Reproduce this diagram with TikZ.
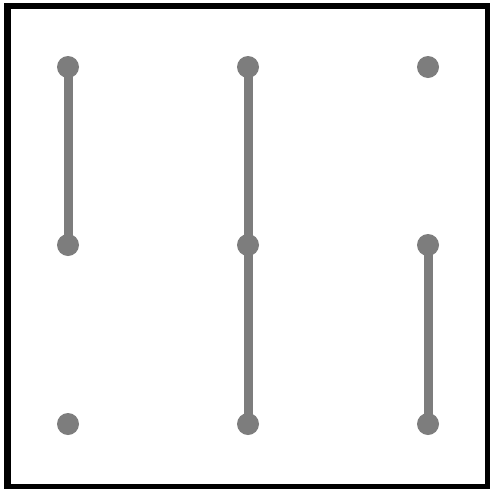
\documentclass[tikz,border=0pt]{standalone}
\begin{document}
\begin{tikzpicture}[x=1pt,y=-1pt,
  dot/.style={circle,fill=gray!98!black,draw=none,inner sep=0pt,minimum size=22pt},
  link/.style={draw=gray!98!black,line width=9pt}]
\useasboundingbox (0,0) rectangle (490,488);
\fill[white] (0,0) rectangle (490,488);
\begin{scope}
\clip (0,0) rectangle (490,488);
\draw[line width=6.5pt] (7.5,6) rectangle (488.5,487.5);
\end{scope}
\foreach \i/\x in {1/68,2/248,3/428}
  \foreach \j/\y in {1/67,2/245,3/424}
    \coordinate (c\i\j) at (\x,\y);
\draw[link] (c11) -- (c12);
\draw[link] (c21) -- (c22);
\draw[link] (c22) -- (c23);
\draw[link] (c32) -- (c33);
\foreach \i in {1,2,3}
  \foreach \j in {1,2,3}
    \node[dot] (d\i\j) at (c\i\j) {};
\end{tikzpicture}
\end{document}
